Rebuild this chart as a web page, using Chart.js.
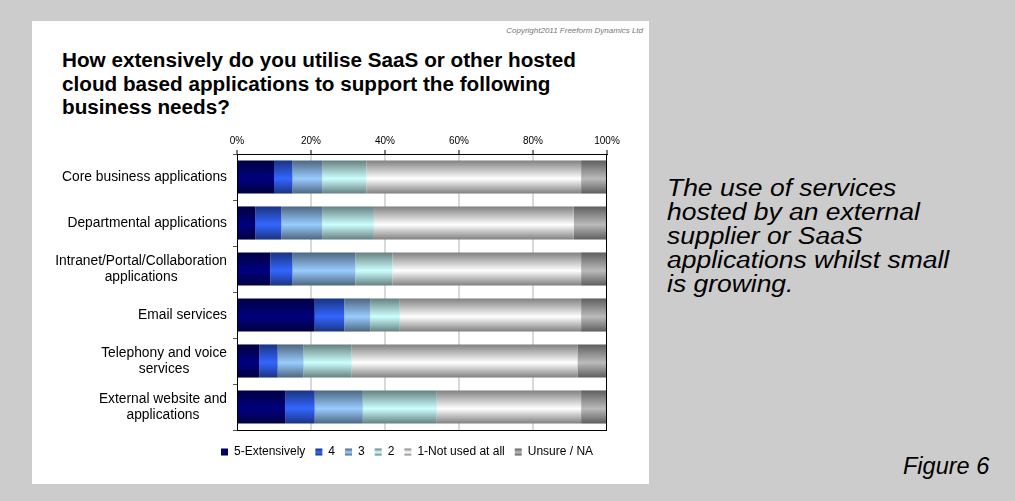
<!DOCTYPE html>
<html>
<head>
<meta charset="utf-8">
<script src="https://cdn.jsdelivr.net/npm/chart.js@4.4.1/dist/chart.umd.min.js"></script>
<style>
  html, body { margin: 0; padding: 0; }
  body { width: 1015px; height: 501px; background: #cccccc; position: relative; overflow: hidden;
         font-family: "Liberation Sans", Arial, sans-serif; }
  .panel { position: absolute; left: 32px; top: 21px; width: 617px; height: 463px; background: #fff; }
  .copy { position: absolute; right: 6px; top: 5px; font-size: 8px; font-style: italic; color: #777; }
  .title { position: absolute; left: 30px; top: 27px; width: 580px; font-size: 20.7px; font-weight: bold;
           line-height: 23.5px; color: #000; }
  .box { position: absolute; left: 0; top: 99px; width: 617px; height: 364px; }
  .note { position: absolute; left: 667px; top: 176px; font-size: 23px; font-style: italic; line-height: 24px;
          color: #000; white-space: nowrap; transform: scaleX(1.15); transform-origin: left top; }
  .fig { position: absolute; left: 903px; top: 453px; font-size: 23.5px; font-style: italic; color: #000; }
</style>
</head>
<body>
<div class="panel">
  <div class="copy">Copyright2011 Freeform Dynamics Ltd</div>
  <div class="title">How extensively do you utilise SaaS or other hosted<br>cloud based applications to support the following<br>business needs?</div>
  <div class="box"><canvas id="usageChart"></canvas></div>
</div>
<div class="note">The use of services<br>hosted by an external<br>supplier or SaaS<br>applications whilst small<br>is growing.</div>
<div class="fig">Figure 6</div>
<script>
const categories = [
    'Core business applications',
    'Departmental applications',
    'Intranet/Portal/Collaboration\napplications',
    'Email services',
    'Telephony and voice\nservices',
    'External website and\napplications'
];
const seriesNames = ['5-Extensively', '4', '3', '2', '1-Not used at all', 'Unsure / NA'];
const extensively = [10, 5, 9, 21, 6, 13];
const four = [5, 7, 6, 8, 5, 8];
const three = [8, 11, 17, 7, 7, 13];
const two = [12, 14, 10, 8, 13, 20];
const notUsed = [58, 54, 51, 49, 61, 39];
const unsure = [7, 9, 7, 7, 8, 7];
const xTicks = [0, 20, 40, 60, 80, 100];

const seriesColors = ['#000080', '#3366ff', '#99ccff', '#ccffff', '#ffffff', '#bbbbbb'];
const barPct = 0.72;
const font = '"Liberation Sans", Arial, sans-serif';

function darken(hex, f) {
    const n = parseInt(hex.slice(1), 16);
    const r = Math.round((n >> 16) * f), g = Math.round(((n >> 8) & 255) * f), b = Math.round((n & 255) * f);
    return `rgb(${r},${g},${b})`;
}

function tube(ctx, hex, top, bottom) {
    const g = ctx.createLinearGradient(0, top, 0, bottom);
    g.addColorStop(0, darken(hex, 0.5));
    g.addColorStop(0.55, hex);
    g.addColorStop(1, darken(hex, 0.5));
    return g;
}

// vertical "tube" shading: dark edges, bright just below the middle
function shaded(hex) {
    return c => {
        const y = c.chart.scales.y;
        if (c.type !== 'data' || !y) return hex;
        const mid = y.getPixelForValue(c.dataIndex);
        const half = y.height / categories.length * barPct / 2;
        if (!isFinite(mid) || !isFinite(half) || half <= 0) return hex;
        return tube(c.chart.ctx, hex, mid - half, mid + half);
    };
}

const values = [extensively, four, three, two, notUsed, unsure];

// category names drawn centred line by line, right edge against the axis
const rowLabels = {
    id: 'rowLabels',
    afterLayout(chart) {
        chart.legend.top += 6;
        chart.legend.bottom += 6;
    },
    afterDraw(chart) {
        const {ctx, chartArea, scales: {y}} = chart;
        ctx.save();
        ctx.strokeStyle = '#000';
        ctx.lineWidth = 1;
        ctx.strokeRect(chartArea.left + 0.5, chartArea.top + 0.5, chartArea.width - 1, chartArea.height);
        ctx.font = '13.8px ' + font;
        ctx.fillStyle = '#000';
        ctx.textAlign = 'center';
        ctx.textBaseline = 'middle';
        categories.forEach((lab, i) => {
            const lines = lab.split('\n');
            const w = Math.max(...lines.map(l => ctx.measureText(l).width));
            const cx = chartArea.left - 10 - w / 2;
            const cy = y.getPixelForValue(i);
            lines.forEach((l, j) => ctx.fillText(l, cx, cy + (j - (lines.length - 1) / 2) * 16));
        });
        ctx.restore();
    }
};

new Chart(document.getElementById('usageChart').getContext('2d'), {
    type: 'bar',
    data: {
        labels: categories,
        datasets: seriesNames.map((name, i) => ({
            label: name,
            data: values[i],
            backgroundColor: shaded(seriesColors[i]),
            borderWidth: 0,
            barPercentage: barPct,
            categoryPercentage: 1
        }))
    },
    options: {
        indexAxis: 'y',
        responsive: true,
        maintainAspectRatio: false,
        animation: false,
        layout: { padding: { left: 179, right: 42, top: 9, bottom: 22 } },
        scales: {
            x: {
                position: 'top',
                stacked: true,
                min: 0,
                max: 100,
                afterBuildTicks: s => { s.ticks = xTicks.map(v => ({value: v})); },
                afterFit: s => { s.height = 25; },
                ticks: {
                    padding: 3,
                    color: '#000',
                    font: { family: font, size: 10 },
                    callback: v => v + '%'
                },
                grid: {
                    color: c => (c.tick && (c.tick.value === 0 || c.tick.value === 100)) ? 'rgba(0,0,0,0)' : '#d9d9d9',
                    lineWidth: 2,
                    tickColor: '#000',
                    tickWidth: 1,
                    tickLength: 4
                },
                border: { color: '#000', width: 1 }
            },
            y: {
                stacked: true,
                afterFit: s => { s.width = 26; },
                ticks: { display: false },
                grid: {
                    offset: true,
                    drawOnChartArea: false,
                    tickColor: '#555',
                    tickLength: 4
                },
                border: { color: '#000', width: 1 }
            }
        },
        plugins: {
            tooltip: { enabled: false },
            legend: {
                position: 'bottom',
                align: 'start',
                labels: {
                    boxWidth: 7,
                    boxHeight: 7,
                    padding: 10,
                    color: '#000',
                    font: { family: font, size: 12 },
                    generateLabels: chart => {
                        const lg = chart.legend;
                        const top = (lg && isFinite(lg.top) ? lg.top : 0) + 12.5;
                        return seriesNames.map((name, i) => ({
                            text: name,
                            fillStyle: tube(chart.ctx, seriesColors[i], top, top + 7),
                            strokeStyle: 'rgba(0,0,0,0)',
                            lineWidth: 0,
                            datasetIndex: i,
                            fontColor: '#000'
                        }));
                    }
                }
            }
        }
    },
    plugins: [rowLabels]
});
</script>
</body>
</html>
